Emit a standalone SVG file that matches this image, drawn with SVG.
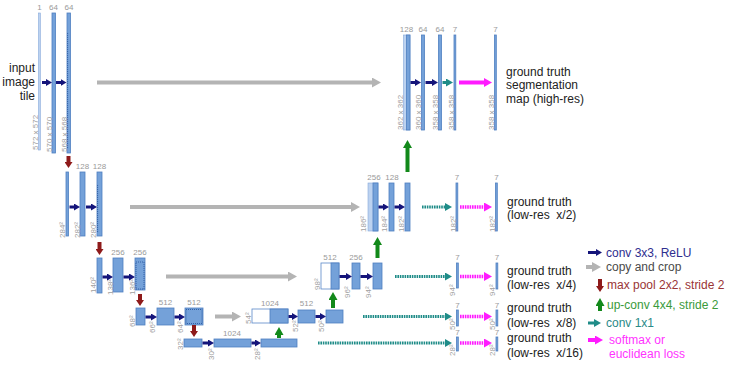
<svg xmlns="http://www.w3.org/2000/svg" width="733" height="371" viewBox="0 0 733 371">
<style>
.bar{fill:#74a1d9;stroke:#4f7fc0;stroke-width:0.8}
.lbar{fill:#bcd2f0;stroke:#86a9da;stroke-width:0.6}
.wbar{fill:#ffffff;stroke:#5a88c8;stroke-width:0.8}
.dot{fill:none;stroke:#2d5aa0;stroke-width:0.9;stroke-dasharray:1 1}
.num{font-family:"Liberation Sans",Arial,sans-serif;font-size:8px;fill:#9a9a9a;text-anchor:middle}
.dim{font-family:"Liberation Sans",Arial,sans-serif;font-size:8px;fill:#a0a0a0}
.gt{font-family:"Liberation Sans",Arial,sans-serif;font-size:12px;fill:#222222;white-space:pre}
.lg{font-family:"Liberation Sans",Arial,sans-serif;font-size:12px}
.conv{stroke:#14147a;stroke-width:3;fill:none;marker-end:url(#mNavy)}
.copy{stroke:#b4b4b4;stroke-width:4;fill:none;marker-end:url(#mGray)}
.pool{stroke:#8e1a1a;stroke-width:4;fill:none;marker-end:url(#mRed)}
.up{stroke:#12891a;stroke-width:4;fill:none;marker-end:url(#mGreen)}
.c11{stroke:#1f8c88;stroke-width:3;fill:none;marker-end:url(#mTeal)}
.c11d{stroke:#1f8c88;stroke-width:3;fill:none;stroke-dasharray:1.6 0.8;marker-end:url(#mTeal)}
.sm{stroke:#ff1aff;stroke-width:4;fill:none;marker-end:url(#mMag)}
.smd{stroke:#ff1aff;stroke-width:3.5;fill:none;stroke-dasharray:1.6 0.8;marker-end:url(#mMag)}
</style>
<defs>
<marker id="mNavy" viewBox="0 0 6 7" refX="1" refY="3.5" markerWidth="6" markerHeight="7" markerUnits="userSpaceOnUse" orient="auto"><path d="M0,0L6,3.5L0,7Z" fill="#14147a"/></marker>
<marker id="mGray" viewBox="0 0 9 10" refX="1" refY="5" markerWidth="9" markerHeight="10" markerUnits="userSpaceOnUse" orient="auto"><path d="M0,0L9,5L0,10Z" fill="#b4b4b4"/></marker>
<marker id="mRed" viewBox="0 0 6 8" refX="1" refY="4" markerWidth="6" markerHeight="8" markerUnits="userSpaceOnUse" orient="auto"><path d="M0,0L6,4L0,8Z" fill="#8e1a1a"/></marker>
<marker id="mGreen" viewBox="0 0 8 9" refX="1" refY="4.5" markerWidth="8" markerHeight="9" markerUnits="userSpaceOnUse" orient="auto"><path d="M0,0L8,4.5L0,9Z" fill="#12891a"/></marker>
<marker id="mTeal" viewBox="0 0 7 8" refX="1" refY="4" markerWidth="7" markerHeight="8" markerUnits="userSpaceOnUse" orient="auto"><path d="M0,0L7,4L0,8Z" fill="#1f8c88"/></marker>
<marker id="mMag" viewBox="0 0 8 9" refX="1" refY="4.5" markerWidth="8" markerHeight="9" markerUnits="userSpaceOnUse" orient="auto"><path d="M0,0L8,4.5L0,9Z" fill="#ff1aff"/></marker>
</defs>

<!-- input label -->
<g id="input-label">
<text class="gt" x="35" y="72" text-anchor="end">input</text>
<text class="gt" x="35" y="86" text-anchor="end">image</text>
<text class="gt" x="35" y="100" text-anchor="end">tile</text>
</g>

<!-- Level 1 encoder -->
<g id="e1a"><rect class="lbar" x="38.5" y="13" width="1.8" height="137"/><text class="num" x="39.5" y="10">1</text><text class="dim" transform="translate(38,150) rotate(-90)">572 x 572</text></g>
<g id="e1b"><rect class="bar" x="52" y="13" width="3.5" height="140"/><text class="num" x="53.5" y="10">64</text><text class="dim" transform="translate(51.5,152) rotate(-90)">570 x 570</text></g>
<g id="e1c"><rect class="bar" x="67" y="13" width="3.5" height="140"/><line class="dot" x1="67.6" y1="33" x2="67.6" y2="148"/><text class="num" x="69" y="10">64</text><text class="dim" transform="translate(66.5,152) rotate(-90)">568 x 568</text></g>

<!-- Level 1 decoder -->
<g id="d1a"><rect class="lbar" x="403.5" y="35" width="6.5" height="95"/><rect class="bar" x="406.5" y="35" width="3.5" height="95"/><text class="num" x="406.5" y="32">128</text><text class="dim" transform="translate(403,130) rotate(-90)">362 x 362</text></g>
<g id="d1b"><rect class="bar" x="421.5" y="35" width="3" height="95"/><text class="num" x="423" y="32">64</text><text class="dim" transform="translate(421,130) rotate(-90)">360 x 360</text></g>
<g id="d1c"><rect class="bar" x="438.5" y="35" width="3" height="95"/><text class="num" x="440" y="32">64</text><text class="dim" transform="translate(438,130) rotate(-90)">358 x 358</text></g>
<g id="d1d"><rect class="bar" x="454" y="35" width="1.8" height="95"/><text class="num" x="455" y="32">7</text><text class="dim" transform="translate(453.5,130) rotate(-90)">358 x 358</text></g>
<g id="d1e"><rect class="bar" x="494.5" y="35" width="1.8" height="95"/><text class="num" x="495.5" y="32">7</text><text class="dim" transform="translate(494,130) rotate(-90)">358 x 358</text></g>
<g id="gt1"><text class="gt" x="506" y="76">ground truth</text><text class="gt" x="506" y="89">segmentation</text><text class="gt" x="506" y="103">map (high-res)</text></g>

<!-- Level 2 encoder -->
<g id="e2a"><rect class="bar" x="66" y="172" width="2.5" height="64"/><text class="dim" transform="translate(64.5,238) rotate(-90)">284²</text></g>
<g id="e2b"><rect class="bar" x="80" y="172" width="5" height="64"/><text class="num" x="82.5" y="169">128</text><text class="dim" transform="translate(79.5,238) rotate(-90)">282²</text></g>
<g id="e2c"><rect class="bar" x="97" y="172" width="5" height="64"/><line class="dot" x1="97.6" y1="185" x2="97.6" y2="232"/><text class="num" x="99.5" y="169">128</text><text class="dim" transform="translate(96,238) rotate(-90)">280²</text></g>

<!-- Level 2 decoder -->
<g id="d2a"><rect class="lbar" x="368" y="183" width="10" height="48"/><rect class="bar" x="373" y="183" width="5" height="48"/><text class="num" x="374" y="180">256</text><text class="dim" transform="translate(366,232) rotate(-90)">186²</text></g>
<g id="d2b"><rect class="bar" x="389" y="183" width="5" height="48"/><text class="num" x="392" y="180">128</text><text class="dim" transform="translate(387,232) rotate(-90)">184²</text></g>
<g id="d2c"><rect class="bar" x="405" y="183" width="5" height="48"/><text class="dim" transform="translate(403.5,232) rotate(-90)">182²</text></g>
<g id="d2d"><rect class="bar" x="456" y="183" width="1.8" height="48"/><text class="num" x="457" y="180">7</text><text class="dim" transform="translate(455.5,232) rotate(-90)">182²</text></g>
<g id="d2e"><rect class="bar" x="495.5" y="183" width="1.8" height="48"/><text class="num" x="496.5" y="180">7</text><text class="dim" transform="translate(495,232) rotate(-90)">182²</text></g>
<g id="gt2"><text class="gt" x="507" y="206">ground truth</text><text class="gt" x="507" y="219">(low-res  x/2)</text></g>

<!-- Level 3 encoder -->
<g id="e3a"><rect class="bar" x="97" y="258" width="5" height="35"/><text class="dim" transform="translate(96,293) rotate(-90)">140²</text></g>
<g id="e3b"><rect class="bar" x="113" y="258" width="10" height="34"/><text class="num" x="118" y="255">256</text><text class="dim" transform="translate(113,295) rotate(-90)">138²</text></g>
<g id="e3c"><rect class="bar" x="135" y="258" width="10" height="32"/><rect class="dot" x="136" y="262" width="8" height="27"/><text class="num" x="140" y="255">256</text><text class="dim" transform="translate(135,295) rotate(-90)">136²</text></g>

<!-- Level 3 decoder -->
<g id="d3a"><rect class="wbar" x="321" y="263" width="18" height="26"/><rect class="bar" x="331" y="263" width="8" height="26"/><text class="num" x="330" y="260">512</text><text class="dim" transform="translate(319.5,290) rotate(-90)">98²</text></g>
<g id="d3b"><rect class="bar" x="352" y="263" width="8" height="26"/><text class="num" x="356" y="260">256</text><text class="dim" transform="translate(350,298) rotate(-90)">96²</text></g>
<g id="d3c"><rect class="bar" x="373" y="263" width="9" height="26"/><text class="dim" transform="translate(371,298) rotate(-90)">94²</text></g>
<g id="d3d"><rect class="bar" x="456.5" y="263" width="1.8" height="25"/><text class="num" x="457.5" y="260">7</text><text class="dim" transform="translate(455,296) rotate(-90)">94²</text></g>
<g id="d3e"><rect class="bar" x="496" y="263" width="1.8" height="26"/><text class="num" x="497" y="260">7</text><text class="dim" transform="translate(494.5,296) rotate(-90)">94²</text></g>
<g id="gt3"><text class="gt" x="507" y="275">ground truth</text><text class="gt" x="507" y="289">(low-res  x/4)</text></g>

<!-- Level 4 encoder -->
<g id="e4a"><rect class="bar" x="136" y="308" width="9" height="17"/><text class="dim" transform="translate(135,327) rotate(-90)">68²</text></g>
<g id="e4b"><rect class="bar" x="157" y="308" width="17" height="17"/><text class="num" x="165.5" y="305">512</text><text class="dim" transform="translate(155,333) rotate(-90)">66²</text></g>
<g id="e4c"><rect class="bar" x="185" y="308" width="18" height="17"/><rect class="dot" x="186" y="309.5" width="16" height="14"/><text class="num" x="194" y="305">512</text><text class="dim" transform="translate(183,333) rotate(-90)">64²</text></g>

<!-- Level 4 decoder -->
<g id="d4a"><rect class="wbar" x="252" y="309" width="36" height="14"/><rect class="bar" x="270" y="309" width="18" height="14"/><text class="num" x="270" y="306">1024</text><text class="dim" transform="translate(250.5,324) rotate(-90)">54²</text></g>
<g id="d4b"><rect class="bar" x="298" y="310" width="17" height="13"/><text class="num" x="306.5" y="306">512</text><text class="dim" transform="translate(298,332) rotate(-90)">52²</text></g>
<g id="d4c"><rect class="bar" x="326" y="310" width="17" height="13"/><text class="dim" transform="translate(324,332) rotate(-90)">50²</text></g>
<g id="d4d"><rect class="bar" x="456.5" y="310" width="1.8" height="16"/><text class="num" x="457.5" y="308">7</text><text class="dim" transform="translate(455,330) rotate(-90)">50²</text></g>
<g id="d4e"><rect class="bar" x="496" y="310" width="1.8" height="16"/><text class="num" x="497" y="308">7</text><text class="dim" transform="translate(494.5,330) rotate(-90)">50²</text></g>
<g id="gt4"><text class="gt" x="507" y="312">ground truth</text><text class="gt" x="507" y="327">(low-res  x/8)</text></g>

<!-- Level 5 -->
<g id="b5a"><rect class="bar" x="184" y="339" width="18" height="8"/><text class="dim" transform="translate(183,350) rotate(-90)">32²</text></g>
<g id="b5b"><rect class="bar" x="214" y="339" width="37" height="8"/><text class="num" x="232" y="336">1024</text><text class="dim" transform="translate(213.5,360) rotate(-90)">30²</text></g>
<g id="b5c"><rect class="bar" x="261" y="339" width="36" height="8"/><text class="dim" transform="translate(259.5,360) rotate(-90)">28²</text></g>
<g id="d5d"><rect class="bar" x="456.5" y="337" width="1.8" height="14"/><text class="num" x="457.5" y="335">7</text><text class="dim" transform="translate(455,356) rotate(-90)">28²</text></g>
<g id="d5e"><rect class="bar" x="496" y="337" width="1.8" height="14"/><text class="num" x="497" y="335">7</text><text class="dim" transform="translate(494.5,356) rotate(-90)">28²</text></g>
<g id="gt5"><text class="gt" x="507" y="342">ground truth</text><text class="gt" x="507" y="357">(low-res  x/16)</text></g>

<!-- Connectors -->
<g id="connectors">
<path class="conv" d="M42,82.5H47"/>
<path class="conv" d="M56,82.5H61.5"/>
<path class="conv" d="M410.5,82.5H416"/>
<path class="conv" d="M425.5,82.5H433"/>
<path class="conv" d="M69.5,207H75"/>
<path class="conv" d="M86,207H92"/>
<path class="conv" d="M378.5,207H384"/>
<path class="conv" d="M394.5,207H400"/>
<path class="conv" d="M102.5,277H108"/>
<path class="conv" d="M123.5,277H130"/>
<path class="conv" d="M339.5,276.5H347"/>
<path class="conv" d="M360.5,276.5H368"/>
<path class="conv" d="M145.5,317H152"/>
<path class="conv" d="M174.5,317H180"/>
<path class="conv" d="M288.5,316.5H293"/>
<path class="conv" d="M315.5,316.5H321"/>
<path class="conv" d="M202.5,343H209"/>
<path class="conv" d="M251.5,343H256"/>

<path class="copy" d="M97,82.5H373"/>
<path class="copy" d="M130,207H352"/>
<path class="copy" d="M166,276.5H289"/>
<path class="copy" d="M215,316.5H233"/>

<path class="pool" d="M68.5,156V163"/>
<path class="pool" d="M99.5,242V250"/>
<path class="pool" d="M140,294V301"/>
<path class="pool" d="M194,325V332"/>

<path class="up" d="M407.5,172V147"/>
<path class="up" d="M377.5,258V244"/>
<path class="up" d="M333,308V299"/>
<path class="up" d="M279,338V334"/>

<path class="c11" d="M442.5,82.5H447"/>
<path class="c11d" d="M422,207H446"/>
<path class="c11d" d="M395,276.5H446"/>
<path class="c11d" d="M363,316.5H446"/>
<path class="c11d" d="M318,343H446"/>

<path class="sm" d="M459,82.5H485"/>
<path class="smd" d="M460,207H485"/>
<path class="smd" d="M460,276.5H485"/>
<path class="smd" d="M460,316.5H485"/>
<path class="smd" d="M460,343H485"/>
</g>

<!-- Legend -->
<g id="legend">
<path class="conv" d="M588,252.5H597"/>
<text class="lg" x="606" y="256.5" fill="#2e2e8f">conv 3x3, ReLU</text>
<path class="copy" d="M586,267H593"/>
<text class="lg" x="606" y="271" fill="#4a4a4a">copy and crop</text>
<path class="pool" d="M600,279V287"/>
<text class="lg" x="607" y="289" fill="#9a3535">max pool 2x2, stride 2</text>
<path class="up" d="M600,311V305"/>
<text class="lg" x="607" y="309" fill="#3a9a3a">up-conv 4x4, stride 2</text>
<path class="c11" d="M588,323H595"/>
<text class="lg" x="606" y="327" fill="#2a8a88">conv 1x1</text>
<path class="sm" d="M588,340H596"/>
<text class="lg" x="609" y="344" fill="#ff33ff">softmax or</text>
<text class="lg" x="609" y="358" fill="#ff33ff">euclidean loss</text>
</g>
</svg>
